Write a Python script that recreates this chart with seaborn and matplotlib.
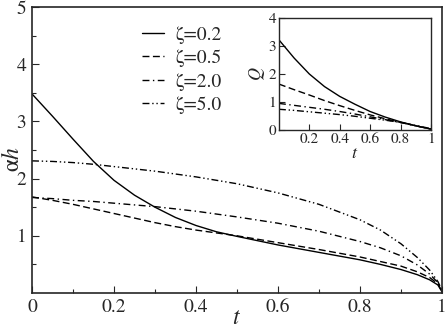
import numpy as np
import pandas as pd
import matplotlib
matplotlib.use("Agg")
import matplotlib.pyplot as plt
import seaborn as sns

# main panel: alpha*h vs t
t_main = [0, 0.05, 0.1, 0.15, 0.2, 0.25, 0.3, 0.35, 0.4, 0.45, 0.5,
          0.6, 0.7, 0.8, 0.85, 0.9, 0.94, 0.97, 0.99, 1.0]
ah_02 = [3.48, 3.09, 2.69, 2.30, 1.97, 1.71, 1.50, 1.32, 1.18, 1.07, 0.99,
         0.84, 0.71, 0.58, 0.50, 0.41, 0.32, 0.23, 0.14, 0.02]
ah_05 = [1.68, 1.62, 1.55, 1.47, 1.39, 1.31, 1.23, 1.16, 1.10, 1.05, 1.00,
         0.88, 0.76, 0.63, 0.55, 0.47, 0.37, 0.27, 0.16, 0.03]
ah_20 = [1.67, 1.65, 1.62, 1.60, 1.57, 1.54, 1.51, 1.47, 1.43, 1.38, 1.33,
         1.22, 1.08, 0.90, 0.79, 0.65, 0.49, 0.33, 0.18, 0.04]
ah_50 = [2.31, 2.30, 2.28, 2.25, 2.21, 2.17, 2.13, 2.08, 2.03, 1.97, 1.91,
         1.75, 1.55, 1.28, 1.10, 0.86, 0.62, 0.40, 0.20, 0.05]

# inset: Q vs t
t_ins = [0, 0.1, 0.2, 0.3, 0.4, 0.5, 0.6, 0.7, 0.8, 0.9, 1.0]
q_02 = [3.22, 2.57, 2.00, 1.55, 1.20, 0.92, 0.66, 0.46, 0.29, 0.15, 0.03]
q_05 = [1.64, 1.44, 1.25, 1.05, 0.87, 0.70, 0.54, 0.40, 0.27, 0.15, 0.03]
q_20 = [0.95, 0.88, 0.81, 0.74, 0.66, 0.57, 0.47, 0.37, 0.27, 0.15, 0.04]
q_50 = [0.74, 0.70, 0.65, 0.60, 0.55, 0.49, 0.42, 0.35, 0.27, 0.16, 0.05]

labels = ["ζ=0.2", "ζ=0.5", "ζ=2.0", "ζ=5.0"]
styles = ["-", (0, (5, 2.5)), (0, (5, 2.5, 1, 2.5)), (0, (5, 2, 1, 2, 1, 2))]

sns.set_style("ticks")
plt.rcParams["font.family"] = ["STIXGeneral", "DejaVu Serif"]
plt.rcParams["mathtext.fontset"] = "stix"
plt.rcParams["xtick.direction"] = "in"
plt.rcParams["ytick.direction"] = "in"

fig = plt.figure(figsize=(4.47, 3.28), dpi=100)
ax = fig.add_axes([0.0716, 0.1067, 0.9172, 0.872])

for y, lab, ls in zip([ah_02, ah_05, ah_20, ah_50], labels, styles):
    sns.lineplot(x=t_main, y=y, ax=ax, color="black", linestyle=ls,
                 linewidth=1.0, label=lab, sort=False)

ax.set_xlim(0, 1)
ax.set_ylim(0, 5)
ax.set_xticks([0, 0.2, 0.4, 0.6, 0.8, 1.0])
ax.set_xticklabels(["0", "0.2", "0.4", "0.6", "0.8", "1"])
ax.set_xticks(np.arange(0.1, 1.0, 0.2), minor=True)
ax.set_yticks([1, 2, 3, 4, 5])
ax.set_yticks([0.5, 1.5, 2.5, 3.5, 4.5], minor=True)
ax.tick_params(labelsize=14, length=5, width=0.8, pad=4)
ax.tick_params(which="minor", length=3, width=0.8)
ax.set_xlabel("$t$", fontsize=17)
ax.set_ylabel("α$h$", fontsize=17)
ax.xaxis.set_label_coords(0.5, -0.09)
ax.xaxis.label.set_va("center")
ax.yaxis.set_label_coords(-0.047, 0.47)
ax.yaxis.label.set_va("center")
for s in ax.spines.values():
    s.set_linewidth(1.2)

ax.legend(loc="upper left", bbox_to_anchor=(0.25, 0.96), frameon=False,
          fontsize=14, handlelength=1.1, handletextpad=0.6, labelspacing=0.3,
          borderaxespad=0)

# inset
ins = fig.add_axes([0.624, 0.6037, 0.340, 0.3414])
for y, ls in zip([q_02, q_05, q_20, q_50], styles):
    sns.lineplot(x=t_ins, y=y, ax=ins, color="black", linestyle=ls,
                 linewidth=1.0, sort=False)
ins.set_xlim(0, 1)
ins.set_ylim(0, 4)
ins.set_xticks([0.2, 0.4, 0.6, 0.8, 1.0])
ins.set_xticklabels(["0.2", "0.4", "0.6", "0.8", "1"])
ins.set_yticks([0, 1, 2, 3, 4])
ins.tick_params(labelsize=11, length=4, width=0.8, pad=2)
ins.set_xlabel("$t$", fontsize=13, labelpad=0)
ins.set_ylabel("$Q$", fontsize=13, labelpad=1)
for s in ins.spines.values():
    s.set_linewidth(1.0)

fig.savefig("out.png", dpi=100)
